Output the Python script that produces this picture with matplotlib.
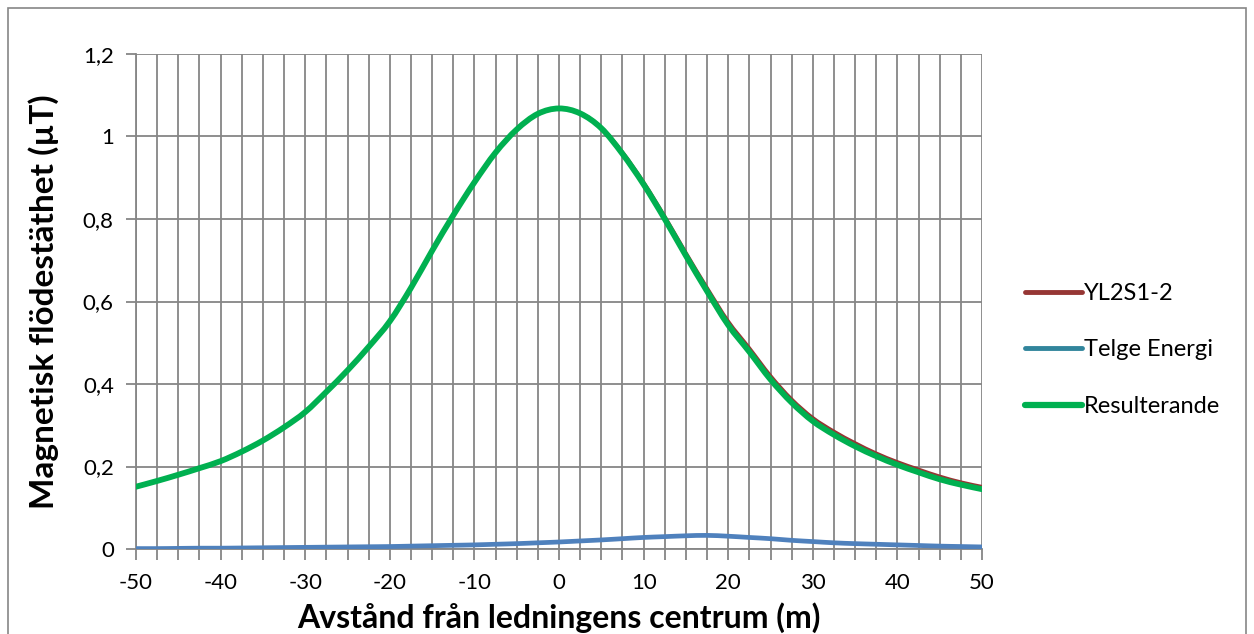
import numpy as np
import matplotlib
matplotlib.use('Agg')
import matplotlib.pyplot as plt
from matplotlib.lines import Line2D
from matplotlib.patches import Rectangle, PathPatch
from matplotlib.path import Path
from matplotlib.ticker import MultipleLocator, FuncFormatter

plt.rcParams['font.family'] = ['Lato', 'DejaVu Sans']
plt.rcParams['axes.unicode_minus'] = False

# distance from line centre (m), every 2.5 m
dist = [-50, -47.5, -45, -42.5, -40, -37.5, -35, -32.5, -30, -27.5, -25,
        -22.5, -20, -17.5, -15, -12.5, -10, -7.5, -5, -2.5, 0,
        2.5, 5, 7.5, 10, 12.5, 15, 17.5, 20, 22.5, 25,
        27.5, 30, 32.5, 35, 37.5, 40, 42.5, 45, 47.5, 50]

yl2s1 = [0.151, 0.165, 0.180, 0.196, 0.213, 0.236, 0.263, 0.295, 0.332, 0.381, 0.433,
         0.490, 0.553, 0.634, 0.724, 0.810, 0.890, 0.962, 1.018, 1.055, 1.068,
         1.057, 1.022, 0.962, 0.889, 0.806, 0.718, 0.633, 0.552, 0.487, 0.420,
         0.363, 0.318, 0.285, 0.257, 0.232, 0.211, 0.193, 0.176, 0.162, 0.151]

telge = [0.001, 0.001, 0.0015, 0.002, 0.002, 0.0025, 0.003, 0.0035, 0.004, 0.0045, 0.005,
         0.0055, 0.006, 0.007, 0.008, 0.009, 0.010, 0.0115, 0.013, 0.015, 0.017,
         0.0195, 0.022, 0.025, 0.028, 0.030, 0.032, 0.033, 0.031, 0.028, 0.025,
         0.021, 0.018, 0.015, 0.013, 0.0115, 0.010, 0.0085, 0.007, 0.006, 0.005]

result = [0.151, 0.165, 0.180, 0.196, 0.213, 0.236, 0.263, 0.295, 0.332, 0.381, 0.433,
          0.490, 0.552, 0.633, 0.723, 0.809, 0.889, 0.961, 1.017, 1.055, 1.068,
          1.056, 1.020, 0.958, 0.884, 0.800, 0.711, 0.625, 0.543, 0.478, 0.411,
          0.355, 0.310, 0.277, 0.249, 0.225, 0.204, 0.186, 0.169, 0.156, 0.145]

labels = ['YL2S1-2', 'Telge Energi', 'Resulterande']
red, blue, teal, green = '#963634', '#4F81BD', '#31859C', '#00B050'
grid_c = '#868686'


def smooth_path(xs, ys):
    # Excel-style smoothed line: Catmull-Rom segments drawn as cubic Beziers
    p = np.column_stack([xs, ys]).astype(float)
    pts = [p[0]]
    codes = [Path.MOVETO]
    n = len(p)
    for i in range(n - 1):
        p0 = p[max(i - 1, 0)]
        p1, p2 = p[i], p[i + 1]
        p3 = p[min(i + 2, n - 1)]
        pts += [p1 + (p2 - p0) / 6, p2 - (p3 - p1) / 6, p2]
        codes += [Path.CURVE4] * 3
    return Path(pts, codes)


def draw(ax, xs, ys, color, lw, z):
    ax.add_patch(PathPatch(smooth_path(xs, ys), fill=False, edgecolor=color,
                           lw=lw, capstyle='round', joinstyle='round', zorder=z))


fig = plt.figure(figsize=(12.54, 6.34), dpi=100)
ax = fig.add_axes([136 / 1254, 1 - 549 / 634, (982 - 136) / 1254, (549 - 54) / 634])

draw(ax, dist, yl2s1, red, 2.6, 3)
draw(ax, dist, telge, blue, 3.4, 3)
draw(ax, dist, result, green, 4.2, 4)

ax.set_xlim(-50, 50)
ax.set_ylim(0, 1.2)
ax.xaxis.set_major_locator(MultipleLocator(10))
ax.xaxis.set_minor_locator(MultipleLocator(2.5))
ax.yaxis.set_major_locator(MultipleLocator(0.2))
ax.yaxis.set_major_formatter(FuncFormatter(
    lambda v, p: '0' if abs(v) < 1e-9 else ('%g' % round(v, 1)).replace('.', ',')))

ax.grid(True, which='both', axis='x', color=grid_c, lw=1.3)
ax.grid(True, which='major', axis='y', color=grid_c, lw=1.3)
ax.set_axisbelow(True)
for s in ['top', 'right']:
    ax.spines[s].set_visible(False)
for s in ['left', 'bottom']:
    ax.spines[s].set_color(grid_c)
    ax.spines[s].set_linewidth(1.3)
ax.tick_params(axis='x', which='both', length=8, width=1.3, color=grid_c,
               labelsize=16, pad=9)
ax.tick_params(axis='y', which='major', length=7, width=1.3, color=grid_c,
               labelsize=16, pad=9)

ax.set_xlabel('Avstånd från ledningens centrum (m)', fontsize=23, fontweight='bold',
              labelpad=7)
ax.set_ylabel('Magnetisk flödestäthet (µT)', fontsize=24, fontweight='bold',
              labelpad=17)

handles = [Line2D([], [], color=red, lw=3.5, solid_capstyle='round'),
           Line2D([], [], color=teal, lw=3.5, solid_capstyle='round'),
           Line2D([], [], color=green, lw=4.5, solid_capstyle='round')]
fig.legend(handles, labels, loc='center left', bbox_to_anchor=(1004 / 1254, 1 - 350 / 634),
           frameon=False, fontsize=17, handlelength=2.4, handletextpad=0.1,
           labelspacing=1.5)

fig.patches.append(Rectangle((8 / 1254, -0.05), (1246 - 8) / 1254, 1.05 - 8 / 634,
                             transform=fig.transFigure, fill=False,
                             edgecolor=grid_c, lw=1.2))

fig.savefig('out.png', dpi=100)
